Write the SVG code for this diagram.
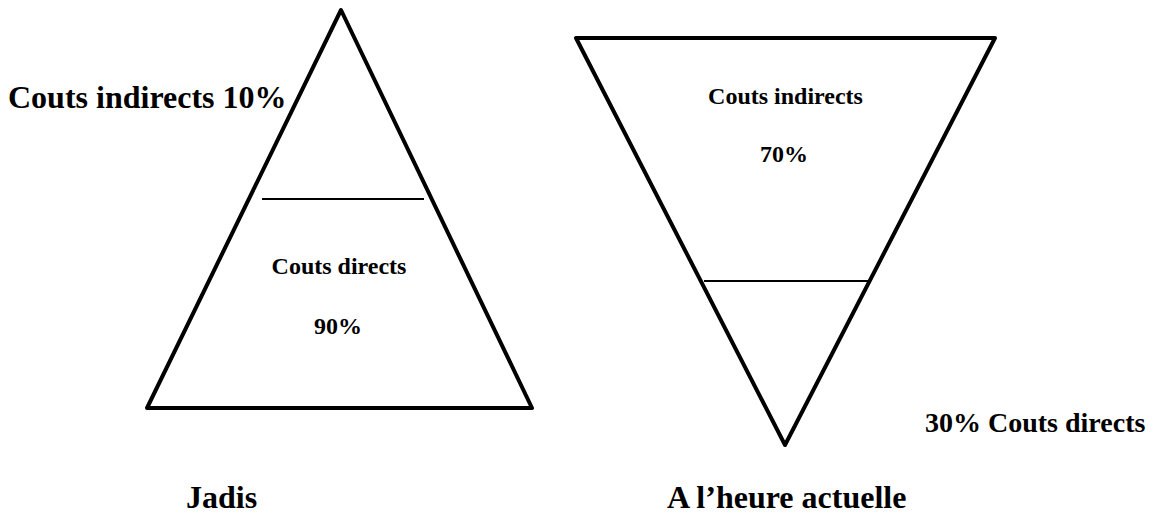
<svg xmlns="http://www.w3.org/2000/svg" width="1167" height="516" viewBox="0 0 1167 516">
<style>
.tri{fill:none;stroke:#000;stroke-width:4;stroke-linejoin:round}
.sep{stroke:#000;stroke-width:1.8}
text{font-family:"Liberation Serif","Times New Roman",serif;font-weight:bold;fill:#000}
.s24{font-size:24px}
.s28{font-size:28px}
.s32{font-size:32px}
</style>
<rect width="1167" height="516" fill="#fff"/>
<g id="pyramide-jadis">
<polygon class="tri" points="341,10 532,408 147,408"/>
<line class="sep" x1="262" y1="199" x2="424" y2="199"/>
<text class="s24" x="339" y="274" text-anchor="middle">Couts directs</text>
<text class="s24" x="338" y="334" text-anchor="middle">90%</text>
</g>
<g id="label-indirects-10">
<text class="s32" x="8" y="108">Couts indirects 10%</text>
</g>
<g id="pyramide-actuelle">
<polygon class="tri" points="576,38 995,38 785,445"/>
<line class="sep" x1="704" y1="281" x2="871" y2="281"/>
<text class="s24" x="785.5" y="104" text-anchor="middle">Couts indirects</text>
<text class="s24" x="784" y="162" text-anchor="middle">70%</text>
</g>
<g id="label-directs-30">
<text class="s28" x="925" y="432">30% Couts directs</text>
</g>
<g id="label-jadis">
<text class="s32" x="186" y="508">Jadis</text>
</g>
<g id="label-actuelle">
<text class="s32" x="667" y="508">A l’heure actuelle</text>
</g>
<g id="connectors"></g>
</svg>
